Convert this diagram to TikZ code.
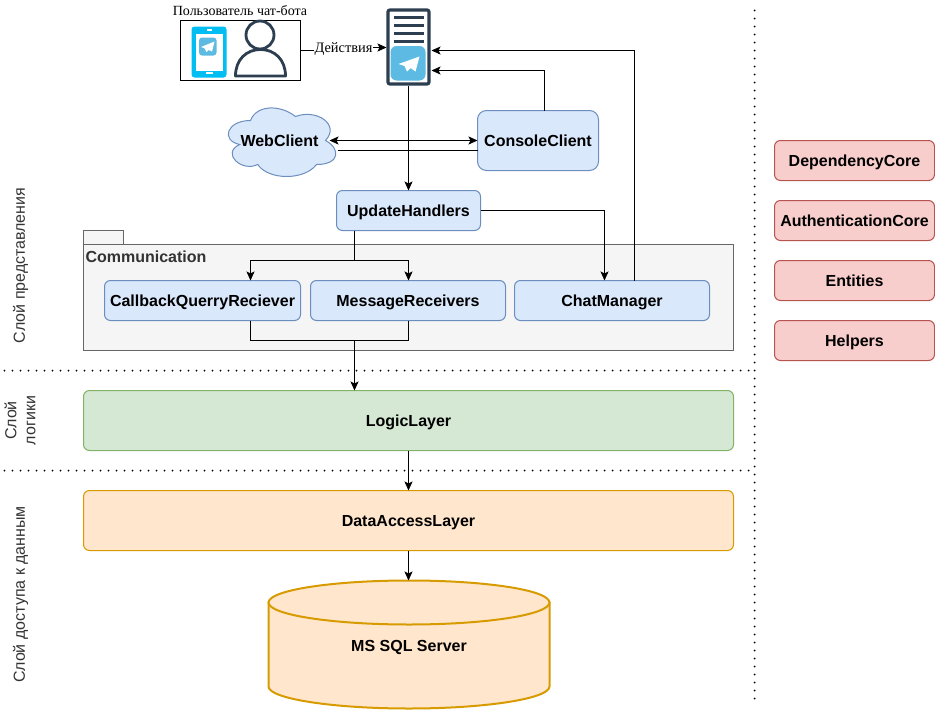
\documentclass[tikz,border=0pt]{standalone}
\usepackage{fontspec}
\setmainfont{Liberation Sans}
\newfontfamily\serifrm{Liberation Serif}
\usetikzlibrary{arrows.meta,calc}
\definecolor{bluefill}{HTML}{DAE8FC}
\definecolor{bluedraw}{HTML}{6C8EBF}
\definecolor{greenfill}{HTML}{D5E8D4}
\definecolor{greendraw}{HTML}{82B366}
\definecolor{orangefill}{HTML}{FFE6CC}
\definecolor{orangedraw}{HTML}{D79B00}
\definecolor{redfill}{HTML}{F8CECC}
\definecolor{reddraw}{HTML}{B85450}
\definecolor{pkgfill}{HTML}{F5F5F5}
\definecolor{pkgdraw}{HTML}{666666}
\definecolor{pkgtext}{HTML}{333333}
\definecolor{icondark}{HTML}{2C3E50}
\definecolor{tgblue}{HTML}{5DBBE3}
\definecolor{phonecyan}{HTML}{00BEF2}
\tikzset{
  box/.style={rounded corners=6pt,inner sep=0pt,outer sep=0pt,line width=1pt,font=\fontsize{16}{18}\selectfont\bfseries,align=center,text height=11.5pt,text depth=0pt},
  bluebox/.style={box,draw=bluedraw,fill=bluefill},
  greenbox/.style={box,draw=greendraw,fill=greenfill,minimum width=650pt,minimum height=60pt},
  orangebox/.style={box,draw=orangedraw,fill=orangefill,minimum width=650pt,minimum height=60pt},
  redbox/.style={box,draw=reddraw,fill=redfill,minimum width=160pt,minimum height=40pt},
  innerbox/.style={bluebox,minimum width=196pt,minimum height=40pt},
  conn/.style={draw=black,line width=1pt,-{Stealth[length=9pt,width=8pt,inset=2pt]}},
  connboth/.style={draw=black,line width=1pt,{Stealth[length=9pt,width=8pt,inset=2pt]}-{Stealth[length=9pt,width=8pt,inset=2pt]}},
  plain/.style={draw=black,line width=1pt},
  sep/.style={draw=black,line width=2pt,line cap=round,dash pattern=on 0pt off 8pt},
  layerlabel/.style={rotate=90,font=\fontsize{16}{19}\selectfont,text=black!80,align=center,inner sep=0pt},
  caption/.style={font=\serifrm\fontsize{14}{16}\selectfont,inner sep=0pt},
  plane/.style={fill=white,draw=none},
}
\begin{document}
\begin{tikzpicture}[x=1pt,y=-1pt]
\useasboundingbox (-0.5,-0.5) rectangle (934.5,711.5);
% separators
\coordinate (sepAl) at (4,370); \coordinate (sepAr) at (750,370);
\coordinate (sepBl) at (4,470); \coordinate (sepBr) at (750,470);
\coordinate (sepCt) at (754,10); \coordinate (sepCb) at (754,700);
\draw[sep] (sepAl) -- (sepAr);
\draw[sep] (sepBl) -- (sepBr);
\draw[sep] (sepCt) -- (sepCb);
% layer labels
\node[layerlabel] (lblpres) at (20,265) {Слой представления};
\node[layerlabel] (lbllogic) at (19.5,420) {Слой\\логики};
\node[layerlabel] (lbldata) at (20,594) {Слой доступа к данным};
% user
\node[caption] (usercap) at (239.5,10) {Пользователь чат-бота};
\node[draw=black,line width=1pt,fill=white,minimum width=120pt,minimum height=60pt,inner sep=0pt,outer sep=0pt] (user) at (240,50) {};
\fill[phonecyan,rounded corners=3pt] (191,26) rectangle (226,77);
\fill[white] (195,33) rectangle (222,70);
\fill[white] (205,71.5) rectangle (212,73);
\fill[white] (206,28.8) rectangle (211,30);
\fill[tgblue,rounded corners=3pt] (198.5,37) rectangle (216,55);
\fill[plane] (214,41) -- (200.5,46.5) -- (204,47.8) -- (206,51.5) -- (208,49.5) -- (211.5,51) -- cycle;
\draw[icondark,line width=2.8pt] (259.5,34.5) circle[radius=14pt];
\draw[icondark,line width=2.8pt,line join=round] (235,75.5) .. controls (235,59) and (246,49) .. (260,49) .. controls (274,49) and (285,59) .. (285,75.5) -- cycle;
% server
\node[draw=icondark,line width=3.2pt,fill=white,rounded corners=2pt,minimum width=41pt,minimum height=74pt,inner sep=0pt,outer sep=1.6pt] (server) at (408,46.5) {};
\foreach \yy in {17,25,33,41}{\draw[icondark,line width=3pt] (393,\yy) -- (423,\yy);}
\fill[tgblue,rounded corners=6pt] (390,45.5) rectangle (425,80);
\fill[plane] (419,56) -- (398,63.5) -- (404,65.5) -- (406.5,71) -- (410,67.5) -- (415,71) -- cycle;
% cloud
\draw[draw=bluedraw,fill=bluefill,line width=1pt] (250,120)
  .. controls (226,120) and (220,140) .. (239.2,144)
  .. controls (220,152.8) and (241.6,172) .. (257.2,164)
  .. controls (268,180) and (304,180) .. (316,164)
  .. controls (340,164) and (340,148) .. (325,140)
  .. controls (340,124) and (316,108) .. (295,116)
  .. controls (280,104) and (256,104) .. (250,120) -- cycle;
\node[box] (web) at (279,140) {WebClient};
% package
\fill[pkgfill] (83,230) rectangle (123,244);
\draw[pkgdraw,line width=1pt] (83,244) -- (83,230) -- (123,230) -- (123,244);
\node[draw=pkgdraw,fill=pkgfill,line width=1pt,minimum width=650pt,minimum height=106pt,inner sep=0pt,outer sep=0pt] (pkg) at (408,297) {};
\node[box,anchor=west,text=pkgtext] (pkgname) at (85,256) {Communication};
% boxes
\node[bluebox,minimum width=121pt,minimum height=60pt,rounded corners=9pt] (console) at (537.5,140) {ConsoleClient};
\node[bluebox,minimum width=144pt,minimum height=40pt] (update) at (408,210) {UpdateHandlers};
\node[innerbox] (callback) at (202,300) {CallbackQuerryReciever};
\node[innerbox,minimum width=195pt] (message) at (407.5,300) {MessageReceivers};
\node[innerbox,minimum width=195pt] (chat) at (611.5,300) {ChatManager};
\node[greenbox] (logic) at (408,420) {LogicLayer};
\node[orangebox] (dal) at (408,520) {DataAccessLayer};
\node[redbox] (depcore) at (854,160) {DependencyCore};
\node[redbox] (authcore) at (854,220) {AuthenticationCore};
\node[redbox] (entities) at (854,280) {Entities};
\node[redbox] (helpers) at (854,340) {Helpers};
% database
\draw[draw=orangedraw,fill=orangefill,line width=2pt] (268,602) -- (268,686)
  .. controls (268,698) and (331,708) .. (408.5,708)
  .. controls (486,708) and (549,698) .. (549,686) -- (549,602) -- cycle;
\draw[draw=orangedraw,fill=orangefill,line width=2pt] (408.5,602) ellipse[x radius=140.5pt,y radius=22pt];
\node[box] (db) at (408.5,645) {MS SQL Server};
\coordinate (dbtop) at (408,580);
% connectors
\coordinate (actbendA) at (343,50);
\coordinate (actbendB) at (343,47);
\coordinate (serverW) at (386,47);
\draw[plain] (user.east |- actbendA) -- (actbendA) -- (actbendB);
\draw[conn] (actbendB) -- (serverW);
\node[caption,fill=white,font=\serifrm\fontsize{14.4}{16}\selectfont,inner sep=0.5pt] (act) at (343,48.5) {Действия};
\draw[conn] (server.south) -- (update.north);
\coordinate (webR) at (329,140);
\coordinate (webRb) at (337,150);
\coordinate (consLb) at (477,150);
\draw[connboth] (webR) -- (console.west);
\draw[plain] (webRb) -- (consLb);
\coordinate (srvR70) at (431,70);
\coordinate (srvR50) at (431,50);
\coordinate (consUp) at (544,110);
\coordinate (chatUp) at (634,280);
\draw[conn] (consUp) |- (srvR70);
\draw[conn] (chatUp) |- (srvR50);
\coordinate (chatIn) at (604,280);
\draw[conn] (update.east) -| (chatIn);
\coordinate (updOut) at (354,230);
\coordinate (split) at (354,260);
\coordinate (cbIn) at (250,280);
\coordinate (cbOut) at (250,320);
\coordinate (msgIn) at (408,280);
\coordinate (msgOut) at (408,320);
\coordinate (merge) at (354,340);
\draw[plain] (updOut) -- (split);
\draw[conn] (split) -| (cbIn);
\draw[conn] (split) -| (msgIn);
\draw[plain] (cbOut) |- (merge);
\draw[plain] (msgOut) |- (merge);
\coordinate (logicIn) at (354,390);
\draw[conn] (merge) -- (logicIn);
\draw[conn] (logic.south) -- (dal.north);
\draw[conn] (dal.south) -- (dbtop);
\end{tikzpicture}
\end{document}
